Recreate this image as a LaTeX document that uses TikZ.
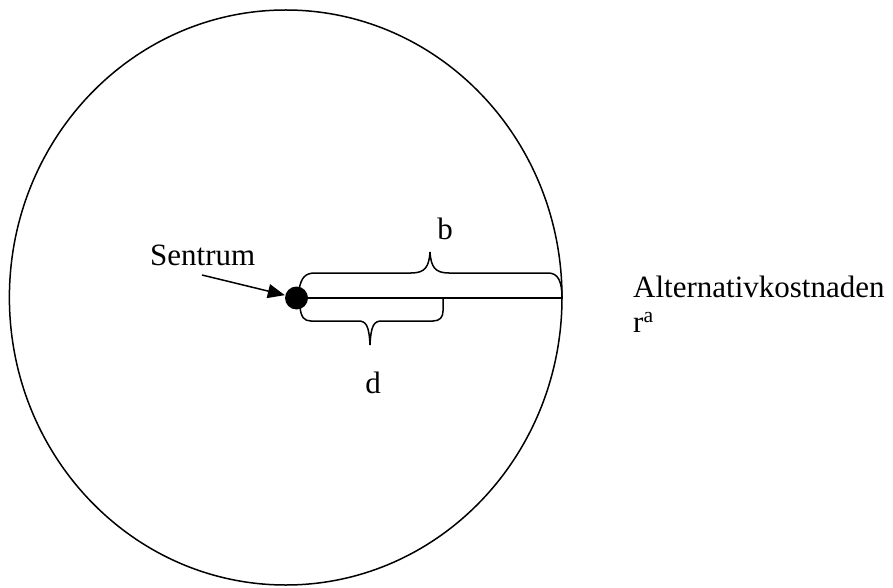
\documentclass[tikz,border=0pt]{standalone}
\usepackage{fontspec}
\setmainfont{Liberation Serif}
\usetikzlibrary{arrows.meta}
\begin{document}
\begin{tikzpicture}[x=1pt,y=1pt,
  ln/.style={line width=1.5pt},
  lbl/.style={inner sep=0pt,font=\fontsize{31}{36}\selectfont}]
\useasboundingbox (0,0) rectangle (893,587);
\draw[ln] (285.7,289.5) ellipse [x radius=276.3, y radius=287.5];
\node[circle,fill=black,inner sep=0pt,minimum size=23pt] (dot) at (296.5,289) {};
\coordinate (rim) at (562,289);
\draw[ln] (dot.center) -- (rim);
% upper brace (b)
\draw[ln] (299,297) .. controls (301,309) and (305,314) .. (315,314)
  -- (411,314) .. controls (425,314) and (429,320) .. (430,335)
  .. controls (431,320) and (435,314) .. (449,314)
  -- (548,314) .. controls (558,314) and (562,306) .. (rim);
% lower brace (d)
\draw[ln] (300,280) .. controls (301,270) and (304,266) .. (311,266)
  -- (358,266) .. controls (366,266) and (369,262) .. (370,242)
  .. controls (371,262) and (374,266) .. (382,266)
  -- (433,266) .. controls (440,266) and (443,270) .. (443,276) -- (443,289);
\node[lbl,anchor=base] (b) at (445,347) {b};
\node[lbl,anchor=base] (d) at (373,194) {d};
\node[lbl,anchor=base west] (sentrum) at (150,322) {Sentrum};
\coordinate (arrowstart) at (202,312);
\draw[ln,-{Triangle[length=17pt,width=14pt]},shorten >=12pt] (arrowstart) -- (dot.center);
\node[lbl,anchor=base west] (alt) at (633,290) {Alternativkostnaden};
\node[lbl,anchor=base west] (ra) at (633,255) {r\textsuperscript{a}};
\end{tikzpicture}
\end{document}
